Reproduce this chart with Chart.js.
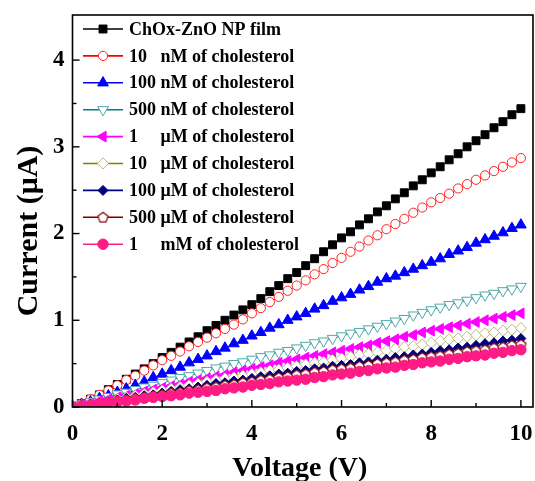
<!DOCTYPE html>
<html><head><meta charset="utf-8">
<script src="https://cdn.jsdelivr.net/npm/chart.js@4/dist/chart.umd.min.js"></script>
<style>html,body{margin:0;padding:0;background:#fff;overflow:hidden}</style>
</head><body>
<canvas id="c" width="535" height="481" style="width:535px;height:481px;display:block"></canvas>
<script>
// ---------- data ----------
const voltage = [0,0.2,0.4,0.6,0.8,1,1.2,1.4,1.6,1.8,2,2.2,2.4,2.6,2.8,3,3.2,3.4,3.6,3.8,4,4.2,4.4,4.6,4.8,5,5.2,5.4,5.6,5.8,6,6.2,6.4,6.6,6.8,7,7.2,7.4,7.6,7.8,8,8.2,8.4,8.6,8.8,9,9.2,9.4,9.6,9.8,10];

const filmOnly = [0.00,0.04,0.09,0.14,0.20,0.26,0.32,0.38,0.44,0.50,0.57,0.63,0.69,0.75,0.81,0.88,0.94,1.00,1.06,1.12,1.18,1.25,1.33,1.40,1.48,1.55,1.63,1.71,1.79,1.87,1.95,2.02,2.10,2.17,2.25,2.32,2.40,2.47,2.55,2.62,2.70,2.77,2.85,2.92,3.00,3.07,3.14,3.22,3.29,3.37,3.44];
const chol10nM = [0.00,0.04,0.09,0.14,0.19,0.25,0.31,0.36,0.42,0.48,0.54,0.59,0.64,0.70,0.75,0.80,0.85,0.90,0.95,1.01,1.08,1.14,1.21,1.27,1.34,1.40,1.46,1.53,1.59,1.66,1.72,1.79,1.85,1.92,1.98,2.05,2.11,2.17,2.24,2.30,2.36,2.41,2.46,2.52,2.57,2.62,2.67,2.72,2.77,2.82,2.87];
const chol100nM = [0.00,0.03,0.06,0.10,0.13,0.17,0.21,0.25,0.29,0.34,0.38,0.42,0.46,0.51,0.55,0.59,0.64,0.68,0.73,0.77,0.82,0.86,0.91,0.95,1.00,1.04,1.08,1.13,1.17,1.22,1.26,1.30,1.35,1.39,1.44,1.48,1.51,1.55,1.59,1.63,1.67,1.71,1.76,1.80,1.84,1.89,1.93,1.97,2.01,2.06,2.10];
const chol500nM = [0.00,0.03,0.06,0.09,0.12,0.15,0.17,0.20,0.23,0.25,0.28,0.31,0.34,0.36,0.39,0.42,0.45,0.47,0.50,0.52,0.55,0.58,0.60,0.63,0.65,0.68,0.71,0.74,0.76,0.79,0.82,0.85,0.87,0.90,0.93,0.96,0.99,1.02,1.06,1.09,1.12,1.15,1.18,1.20,1.23,1.26,1.29,1.31,1.34,1.36,1.39];
const chol1uM = [0.00,0.02,0.04,0.07,0.09,0.11,0.13,0.15,0.18,0.20,0.22,0.24,0.26,0.29,0.31,0.33,0.35,0.37,0.40,0.42,0.44,0.46,0.48,0.51,0.53,0.55,0.57,0.59,0.61,0.63,0.65,0.67,0.69,0.71,0.74,0.76,0.78,0.81,0.83,0.86,0.88,0.90,0.92,0.94,0.96,0.98,1.00,1.02,1.04,1.06,1.08];
const chol10uM = [0.00,0.02,0.04,0.05,0.07,0.09,0.11,0.13,0.15,0.17,0.19,0.21,0.23,0.25,0.27,0.29,0.31,0.33,0.34,0.36,0.38,0.40,0.42,0.43,0.45,0.47,0.49,0.51,0.52,0.54,0.56,0.58,0.60,0.61,0.63,0.65,0.67,0.69,0.70,0.72,0.74,0.76,0.78,0.79,0.81,0.83,0.85,0.86,0.88,0.89,0.91];
const chol100uM = [0.00,0.02,0.03,0.05,0.06,0.08,0.10,0.11,0.13,0.14,0.16,0.18,0.20,0.21,0.23,0.25,0.27,0.28,0.30,0.31,0.33,0.35,0.36,0.38,0.39,0.41,0.42,0.44,0.45,0.47,0.48,0.49,0.51,0.52,0.54,0.55,0.57,0.58,0.60,0.61,0.63,0.65,0.66,0.68,0.69,0.71,0.73,0.74,0.76,0.77,0.79];
const chol500uM = [0.00,0.01,0.03,0.04,0.06,0.07,0.08,0.10,0.11,0.13,0.14,0.16,0.17,0.19,0.20,0.22,0.23,0.25,0.26,0.28,0.29,0.31,0.32,0.34,0.35,0.37,0.38,0.40,0.41,0.43,0.44,0.45,0.47,0.48,0.50,0.51,0.52,0.54,0.55,0.57,0.58,0.59,0.61,0.62,0.64,0.65,0.66,0.68,0.69,0.71,0.72];
const chol1mM = [0.00,0.01,0.02,0.04,0.05,0.06,0.07,0.08,0.10,0.11,0.12,0.13,0.14,0.16,0.17,0.18,0.19,0.21,0.22,0.23,0.25,0.26,0.27,0.29,0.30,0.31,0.32,0.34,0.35,0.37,0.38,0.39,0.41,0.42,0.44,0.45,0.46,0.48,0.49,0.51,0.52,0.53,0.55,0.56,0.58,0.59,0.60,0.62,0.63,0.65,0.66];

const seriesLabels = ["ChOx-ZnO NP film","10   nM of cholesterol","100 nM of cholesterol","500 nM of cholesterol","1     \u03bcM of cholesterol","10   \u03bcM of cholesterol","100 \u03bcM of cholesterol","500 \u03bcM of cholesterol","1     mM of cholesterol"];
const seriesValues = [filmOnly, chol10nM, chol100nM, chol500nM, chol1uM, chol10uM, chol100uM, chol500uM, chol1mM];

const xTickLabels = [0,2,4,6,8,10];
const xMinorTicks = [1,3,5,7,9];
const yTickLabels = [0,1,2,3,4];
const yMinorTicks = [0.5,1.5,2.5,3.5];
const xTitle = "Voltage (V)";
const yTitle = "Current (\u03bcA)";

// ---------- styles ----------
const FONT = '"Liberation Serif","Times New Roman",serif';
function pentagon(){
  const c=document.createElement('canvas'); c.width=13; c.height=13;
  const g=c.getContext('2d'); g.beginPath();
  for(let k=0;k<5;k++){const a=-Math.PI/2+k*2*Math.PI/5; const px=6.5+5.3*Math.cos(a), py=6.8+5.3*Math.sin(a); k?g.lineTo(px,py):g.moveTo(px,py);}
  g.closePath(); g.fillStyle='#fff'; g.fill(); g.strokeStyle='#800000'; g.lineWidth=1.2; g.stroke();
  return c;
}
const styles = [
  {line:'#000000', border:'#000000', fill:'#000000', ps:'rect', r:5.6, rot:0},
  {line:'#ff0000', border:'#ff2020', fill:'#ffffff', ps:'circle', r:4.6, rot:0},
  {line:'#0000ff', border:'#0000ff', fill:'#0000ff', ps:'triangle', r:6.2, rot:0},
  {line:'#008080', border:'#4fa8a8', fill:'#ffffff', ps:'triangle', r:6.2, rot:180},
  {line:'#ff00ff', border:'#ff00ff', fill:'#ff00ff', ps:'triangle', r:6.2, rot:-90},
  {line:'#808000', border:'#bdb77a', fill:'#ffffff', ps:'rectRot', r:5.6, rot:0},
  {line:'#000080', border:'#000080', fill:'#000080', ps:'rectRot', r:5.0, rot:0},
  {line:'#800000', border:'#800000', fill:'#ffffff', ps:pentagon(), r:5.5, rot:0},
  {line:'#ff1a85', border:'#ff1a85', fill:'#ff1a85', ps:'circle', r:5.2, rot:0},
];

function drawMarker(ctx, s, x, y){
  if (typeof s.ps !== 'string'){ ctx.drawImage(s.ps, x - s.ps.width/2, y - s.ps.height/2); return; }
  ctx.save(); ctx.fillStyle=s.fill; ctx.strokeStyle=s.border; ctx.lineWidth=1;
  if (Chart.helpers && Chart.helpers.drawPoint){
    Chart.helpers.drawPoint(ctx,{pointStyle:s.ps, rotation:s.rot, radius:s.r, borderWidth:1}, x, y);
  }
  ctx.restore();
}

const decor = {
  id:'decor',
  afterDatasetsDraw(chart){
    const {ctx, chartArea:a, scales:{x,y}} = chart;
    ctx.save();
    ctx.strokeStyle='#000'; ctx.lineWidth=1.6;
    ctx.strokeRect(a.left, a.top, a.right-a.left, a.bottom-a.top);
    ctx.lineWidth=1.4;
    const seg=(x1,y1,x2,y2)=>{ctx.beginPath();ctx.moveTo(x1,y1);ctx.lineTo(x2,y2);ctx.stroke();};
    xTickLabels.forEach(v=>{const p=x.getPixelForValue(v); seg(p,a.bottom,p,a.bottom-7);});
    xMinorTicks.forEach(v=>{const p=x.getPixelForValue(v); seg(p,a.bottom,p,a.bottom-4);});
    yTickLabels.forEach(v=>{const p=y.getPixelForValue(v); seg(a.left,p,a.left+7,p);});
    yMinorTicks.forEach(v=>{const p=y.getPixelForValue(v); seg(a.left,p,a.left+4,p);});
    // legend
    ctx.font = 'bold 18px '+FONT; ctx.textBaseline='middle'; ctx.textAlign='left';
    seriesLabels.forEach((lab,i)=>{
      const s=styles[i]; const ly = 29 + i*26.9;
      ctx.strokeStyle=s.line; ctx.lineWidth=1.6; seg(83,ly,123,ly);
      drawMarker(ctx,s,103,ly);
      ctx.fillStyle='#000'; ctx.fillText(lab,129,ly+1);
    });
    // axis titles
    ctx.fillStyle='#000';
    ctx.font='bold 28px '+FONT; ctx.textAlign='center'; ctx.textBaseline='alphabetic';
    ctx.fillText(xTitle, (a.left+a.right)/2 - 3, 476);
    ctx.save(); ctx.translate(37, 231); ctx.rotate(-Math.PI/2);
    ctx.font='bold 30px '+FONT; ctx.fillText(yTitle,0,0); ctx.restore();
    ctx.restore();
  }
};

const datasets = seriesValues.map((vals,i)=>({
  label: seriesLabels[i],
  data: voltage.map((v,k)=>({x:v, y:vals[k]})),
  borderColor: styles[i].line,
  backgroundColor: styles[i].fill,
  borderWidth: 1,
  pointStyle: styles[i].ps,
  pointRotation: styles[i].rot,
  pointRadius: styles[i].r,
  pointBorderColor: styles[i].border,
  pointBackgroundColor: styles[i].fill,
  pointBorderWidth: 1,
  tension: 0,
  order: -i,
  clip: 0
}));

new Chart(document.getElementById('c'), {
  type:'line',
  data:{datasets},
  plugins:[decor],
  options:{
    responsive:false, animation:false, devicePixelRatio:1,
    layout:{autoPadding:false, padding:{top:15,right:2,left:0,bottom:0}},
    plugins:{legend:{display:false}, tooltip:{enabled:false}},
    scales:{
      x:{type:'linear', min:0, max:10.27,
        grid:{display:false, drawTicks:false}, border:{display:false},
        afterFit(s){s.height=74; s.paddingLeft=0; s.paddingRight=0;},
        ticks:{stepSize:2, includeBounds:false, autoSkip:false, maxRotation:0, padding:13, color:'#000',
          font:{family:FONT, size:23, weight:'bold'},
          callback:(v)=> xTickLabels.includes(v) ? String(v) : ''}},
      y:{type:'linear', min:0, max:4.52,
        grid:{display:false, drawTicks:false}, border:{display:false},
        afterFit(s){s.width=72.5; s.paddingTop=0; s.paddingBottom=0;},
        ticks:{stepSize:1, includeBounds:false, padding:8, color:'#000',
          font:{family:FONT, size:23, weight:'bold'},
          callback:(v)=> yTickLabels.includes(v) ? String(v) : ''}}
    }
  }
});
</script>
</body></html>
